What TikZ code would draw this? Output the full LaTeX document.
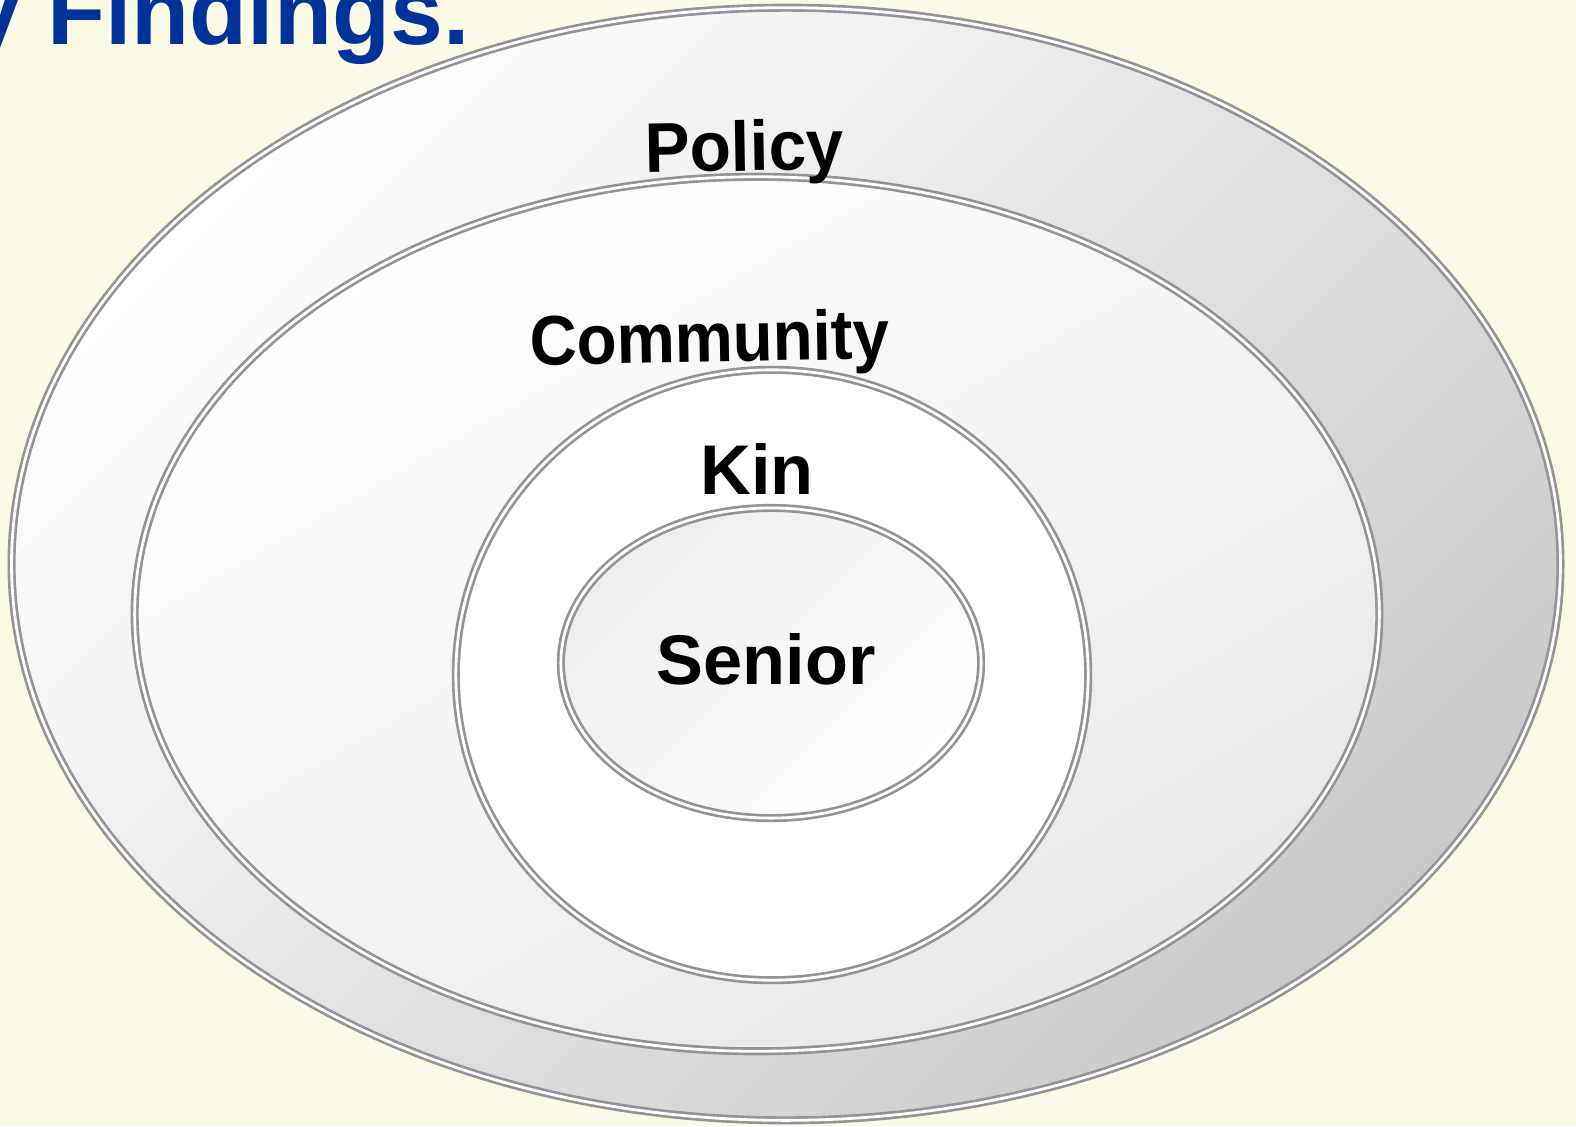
\documentclass[tikz,border=0pt]{standalone}
\usepackage{fontspec}
\setmainfont{Liberation Sans}
\usetikzlibrary{positioning, shapes.geometric}
\definecolor{cream}{RGB}{250,250,230}
\definecolor{titleblue}{RGB}{0,51,153}

\begin{document}
\begin{tikzpicture}[x=0.01cm, y=-0.01cm,
        ring/.style={ellipse, draw=gray!85, double=white, double distance=0.8pt, line width=0.75pt, inner sep=0pt, shading=axis},
        ringtext/.style={font=\fontsize{20}{24}\selectfont\bfseries, anchor=base, text=black},
        heading/.style={font=\fontsize{27}{32}\selectfont\bfseries, text=titleblue, anchor=base east}
    ]
    \fill[cream] (0,0) rectangle (1576,1126);
    \useasboundingbox (0,0) rectangle (1576,1126);

    \node[heading] (title) at (482,44) {y Findings.};

    \node[ring, minimum width=15.48cm, minimum height=11.12cm, top color=white, bottom color=gray!42, shading angle=45] (policy) at (786,564) {};
    \node[ring, minimum width=12.44cm, minimum height=8.74cm, top color=white, bottom color=gray!18, shading angle=30] (community) at (757,614) {};
    \node[ring, minimum width=6.32cm, minimum height=6.10cm, top color=white, bottom color=white] (kin) at (772,675) {};
    \node[ring, minimum width=4.20cm, minimum height=3.10cm, top color=white, bottom color=gray!14, shading angle=-135] (senior) at (771,663) {};

    \node[ringtext, rotate=1, xscale=0.96] (policytext) at (745,171) {Policy};
    \node[ringtext, rotate=1, xscale=0.93] (communitytext) at (710,362) {Community};
    \node[ringtext] (kintext) at (757,494) {Kin};
    \node[ringtext] (seniortext) at (766,684) {Senior};
\end{tikzpicture}
\end{document}
